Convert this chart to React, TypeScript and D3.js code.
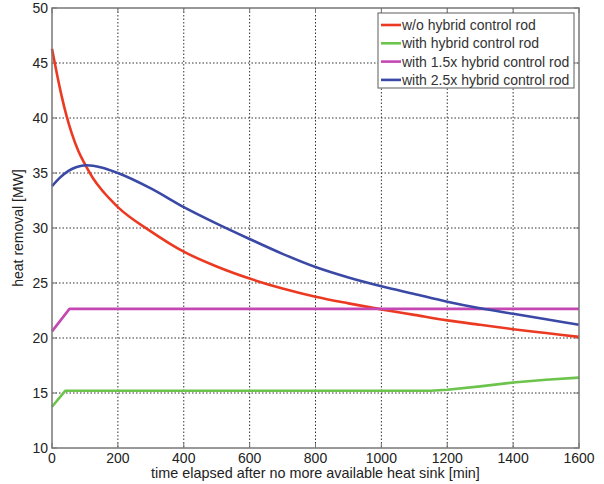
import React from 'react';
import * as d3 from 'd3';

const W = 604;
const H = 484;
const M = { left: 52, right: 25, top: 8, bottom: 36 };

const xTicks = [0, 200, 400, 600, 800, 1000, 1200, 1400, 1600];
const yTicks = [10, 15, 20, 25, 30, 35, 40, 45, 50];

// time [min] and heat removal [MW]
const redT = [0, 15, 30, 45, 60, 80, 100, 125, 150, 177, 200, 300, 400, 500, 600, 700, 800, 900, 1000, 1100, 1200, 1300, 1400, 1500, 1600];
const redV = [46.3, 44.0, 41.9, 40.1, 38.6, 37.0, 35.8, 34.5, 33.5, 32.6, 31.9, 29.7, 27.85, 26.5, 25.4, 24.5, 23.75, 23.15, 22.6, 22.1, 21.6, 21.2, 20.8, 20.45, 20.1];

const greenT = [0, 40, 1150, 1200, 1300, 1400, 1500, 1600];
const greenV = [13.75, 15.2, 15.2, 15.3, 15.6, 15.95, 16.2, 16.4];

const pinkT = [0, 53, 1600];
const pinkV = [20.6, 22.65, 22.65];

const blueT = [0, 25, 50, 75, 105, 150, 200, 300, 400, 500, 600, 700, 800, 900, 1000, 1100, 1200, 1300, 1400, 1500, 1600];
const blueV = [33.8, 34.6, 35.2, 35.55, 35.7, 35.5, 35.0, 33.6, 31.9, 30.4, 29.0, 27.65, 26.45, 25.5, 24.7, 24.0, 23.3, 22.7, 22.2, 21.7, 21.2];

const seriesNames = ['w/o hybrid control rod', 'with hybrid control rod', 'with 1.5x hybrid control rod', 'with 2.5x hybrid control rod'];
const seriesColors = ['#ec3a22', '#6cc44c', '#c447b4', '#3a48a6'];

export default function App() {
  const x = d3.scaleLinear().domain([0, 1600]).range([M.left, W - M.right]);
  const y = d3.scaleLinear().domain([10, 50]).range([H - M.bottom, M.top]);

  const smooth = d3.line<[number, number]>().x(d => x(d[0])).y(d => y(d[1])).curve(d3.curveMonotoneX);
  const straight = d3.line<[number, number]>().x(d => x(d[0])).y(d => y(d[1]));

  const zip = (t: number[], v: number[]) => t.map((tt, i) => [tt, v[i]] as [number, number]);
  const paths = [
    smooth(zip(redT, redV)),
    straight(zip(greenT, greenV)),
    straight(zip(pinkT, pinkV)),
    smooth(zip(blueT, blueV)),
  ];

  const x0 = x(0), x1 = x(1600), y0 = y(10), y1 = y(50);
  const font = 'Arial, "Liberation Sans", sans-serif';

  return (
    <svg width={W} height={H} style={{ position: 'absolute', left: 0, top: 0, background: '#fff' }} fontFamily={font}>
      {/* grid */}
      {xTicks.slice(1, -1).map(t => (
        <line key={'gx' + t} x1={x(t)} x2={x(t)} y1={y1} y2={y0} stroke="#333" strokeWidth={1} strokeDasharray="1.5,2" />
      ))}
      {yTicks.slice(1, -1).map(t => (
        <line key={'gy' + t} x1={x0} x2={x1} y1={y(t)} y2={y(t)} stroke="#333" strokeWidth={1} strokeDasharray="1.5,2" />
      ))}
      {/* ticks */}
      {xTicks.map(t => (
        <g key={'tx' + t}>
          <line x1={x(t)} x2={x(t)} y1={y0} y2={y0 - 5} stroke="#777" />
          <line x1={x(t)} x2={x(t)} y1={y1} y2={y1 + 5} stroke="#777" />
          <text x={x(t)} y={y0 + 15} textAnchor="middle" fontSize={14} fill="#222">{t}</text>
        </g>
      ))}
      {yTicks.map(t => (
        <g key={'ty' + t}>
          <line x1={x0} x2={x0 + 5} y1={y(t)} y2={y(t)} stroke="#777" />
          <line x1={x1} x2={x1 - 5} y1={y(t)} y2={y(t)} stroke="#777" />
          <text x={x0 - 4} y={y(t) + 5} textAnchor="end" fontSize={14} fill="#222">{t}</text>
        </g>
      ))}
      {/* series */}
      {paths.map((d, i) => (
        <path key={i} d={d || ''} fill="none" stroke={seriesColors[i]} strokeWidth={2.6} strokeLinejoin="round" />
      ))}
      {/* frame */}
      <rect x={x0} y={y1} width={x1 - x0} height={y0 - y1} fill="none" stroke="#777" strokeWidth={1.5} />
      {/* legend */}
      <g>
        <rect x={378} y={13} width={196} height={75} fill="#fff" stroke="#777" strokeWidth={1.2} />
        {seriesNames.map((n, i) => (
          <g key={n}>
            <line x1={381} x2={401} y1={25 + i * 18.3} y2={25 + i * 18.3} stroke={seriesColors[i]} strokeWidth={2.6} />
            <text x={402} y={25 + i * 18.3 + 5} fontSize={14} fill="#333">{n}</text>
          </g>
        ))}
      </g>
      {/* axis labels */}
      <text x={(x0 + x1) / 2} y={478} textAnchor="middle" fontSize={14.4} fill="#222">time elapsed after no more available heat sink [min]</text>
      <text transform={`translate(23, ${(y0 + y1) / 2}) rotate(-90)`} textAnchor="middle" fontSize={14} fill="#222">heat removal [MW]</text>
    </svg>
  );
}
